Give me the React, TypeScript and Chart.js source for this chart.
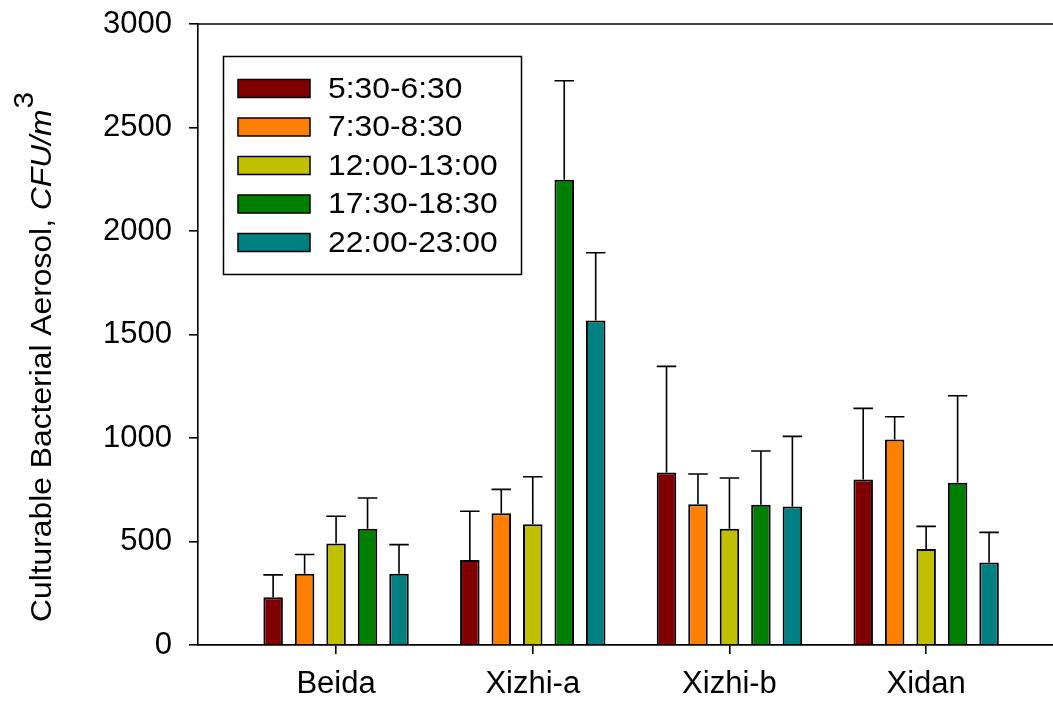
import React, { useEffect, useRef } from "react";
import { Chart, registerables } from "chart.js";

Chart.register(...registerables);

const categories = ["Beida", "Xizhi-a", "Xizhi-b", "Xidan"];
const seriesLabels = ["5:30-6:30", "7:30-8:30", "12:00-13:00", "17:30-18:30", "22:00-23:00"];
const seriesColors = ["#800000", "#FF8000", "#C0C000", "#008000", "#008080"];

const s0530 = [231, 411, 833, 799];
const s0730 = [344, 637, 680, 993];
const s1200 = [490, 583, 562, 464];
const s1730 = [562, 2247, 677, 784];
const s2200 = [344, 1568, 669, 398];

const e0530 = [108, 235, 513, 344];
const e0730 = [93, 115, 146, 110];
const e1200 = [132, 230, 245, 109];
const e1730 = [148, 479, 260, 420];
const e2200 = [141, 327, 339, 146];

const seriesValues = [s0530, s0730, s1200, s1730, s2200];
const seriesErrors = [e0530, e0730, e1200, e1730, e2200];

const yTicks = [0, 500, 1000, 1500, 2000, 2500, 3000];

const FONT = '"Liberation Sans", Arial, sans-serif';
const STRETCH = 1.06;

const errorBarPlugin = {
  id: "errorBars",
  afterDatasetsDraw(chart: any) {
    const ctx = chart.ctx;
    const yScale = chart.scales.y;
    ctx.save();
    ctx.strokeStyle = "#000";
    ctx.lineWidth = 1.6;
    chart.data.datasets.forEach((ds: any, i: number) => {
      const meta = chart.getDatasetMeta(i);
      meta.data.forEach((el: any, j: number) => {
        const v = ds.data[j].y;
        const err = seriesErrors[i][j];
        const p = el.getProps(["x", "y", "width"], true);
        const yTop = yScale.getPixelForValue(v + err);
        const half = p.width / 2;
        ctx.beginPath();
        ctx.moveTo(p.x, p.y);
        ctx.lineTo(p.x, yTop);
        ctx.moveTo(p.x - half, yTop);
        ctx.lineTo(p.x + half, yTop);
        ctx.stroke();
      });
    });
    ctx.restore();
  },
};

const decorPlugin = {
  id: "decor",
  afterDraw(chart: any) {
    const ctx = chart.ctx;
    const area = chart.chartArea;
    ctx.save();
    // top frame line
    ctx.strokeStyle = "#000";
    ctx.lineWidth = 1.6;
    ctx.beginPath();
    ctx.moveTo(area.left - 1, area.top);
    ctx.lineTo(chart.width, area.top);
    ctx.stroke();

    // legend box
    const lx = 223.5, ly = 56.5, lw = 298, lh = 218;
    ctx.lineWidth = 1.5;
    ctx.strokeRect(lx, ly, lw, lh);
    ctx.font = `30px ${FONT}`;
    ctx.textBaseline = "middle";
    ctx.textAlign = "left";
    seriesLabels.forEach((lab, i) => {
      const cy = 88.5 + i * 38.5;
      ctx.fillStyle = seriesColors[i];
      ctx.fillRect(238, cy - 9, 72, 18);
      ctx.strokeStyle = "#000";
      ctx.lineWidth = 1.5;
      ctx.strokeRect(238, cy - 9, 72, 18);
      ctx.fillStyle = "#000";
      ctx.save();
      ctx.translate(328, cy + 1);
      ctx.scale(STRETCH, 1);
      ctx.fillText(lab, 0, 0);
      ctx.restore();
    });

    // y axis title
    ctx.translate(51, 622);
    ctx.rotate(-Math.PI / 2);
    ctx.scale(STRETCH, 1);
    ctx.textBaseline = "alphabetic";
    ctx.fillStyle = "#000";
    ctx.font = `30px ${FONT}`;
    const part1 = "Culturable Bacterial Aerosol, ";
    ctx.fillText(part1, 0, 0);
    let w = ctx.measureText(part1).width;
    ctx.font = `italic 30px ${FONT}`;
    const part2 = "CFU/m";
    ctx.fillText(part2, w, 0);
    w += ctx.measureText(part2).width;
    ctx.font = `28px ${FONT}`;
    ctx.fillText("3", w + 1, -18);
    ctx.restore();
  },
};

export default function App() {
  const ref = useRef<HTMLCanvasElement>(null);

  useEffect(() => {
    if (!ref.current) return;
    const datasets = seriesLabels.map((lab, i) => ({
      label: lab,
      data: seriesValues[i].map((v, j) => ({ x: j + 1, y: v })),
      backgroundColor: seriesColors[i],
      borderColor: "#000",
      borderWidth: 2,
      barPercentage: 0.62,
      categoryPercentage: 0.8,
    }));

    const chart = new Chart(ref.current, {
      type: "bar",
      data: { datasets },
      plugins: [errorBarPlugin, decorPlugin],
      options: {
        animation: false,
        responsive: false,
        devicePixelRatio: 1,
        layout: { padding: { top: 24, left: 0, right: 0, bottom: 0 } },
        plugins: {
          legend: { display: false },
          tooltip: { enabled: false },
          title: { display: false },
        },
        scales: {
          x: {
            type: "linear",
            offset: false,
            min: 0.298,
            max: 4.645,
            afterFit(scale: any) {
              scale.height = 59;
              scale.paddingLeft = 0;
              scale.paddingRight = 0;
            },
            afterBuildTicks(scale: any) {
              scale.ticks = categories.map((_, i) => ({ value: i + 1 }));
            },
            ticks: {
              color: "#000",
              font: { family: FONT, size: 31 },
              padding: 12,
              maxRotation: 0,
              autoSkip: false,
              callback: (v: any) => categories[Math.round(Number(v)) - 1] ?? "",
            },
            grid: {
              display: true,
              offset: false,
              drawOnChartArea: false,
              drawTicks: true,
              tickLength: 9,
              color: "#000",
              lineWidth: 1.6,
            },
            border: { display: true, color: "#000", width: 1.8 },
          },
          y: {
            min: 0,
            max: 3000,
            afterFit(scale: any) {
              scale.width = 198;
              scale.paddingTop = 0;
              scale.paddingBottom = 0;
            },
            afterBuildTicks(scale: any) {
              scale.ticks = yTicks.map((v) => ({ value: v }));
            },
            ticks: {
              color: "#000",
              font: { family: FONT, size: 31 },
              padding: 17,
              callback: (v: any) => String(v),
            },
            grid: {
              display: true,
              drawOnChartArea: false,
              drawTicks: true,
              tickLength: 9,
              color: "#000",
              lineWidth: 1.6,
            },
            border: { display: true, color: "#000", width: 1.6 },
          },
        },
      } as any,
    });
    return () => chart.destroy();
  }, []);

  return (
    <div style={{ position: "absolute", left: 0, top: 0, width: 1053, height: 704, background: "#fff" }}>
      <canvas ref={ref} width={1053} height={704} style={{ width: 1053, height: 704, display: "block" }} />
    </div>
  );
}
